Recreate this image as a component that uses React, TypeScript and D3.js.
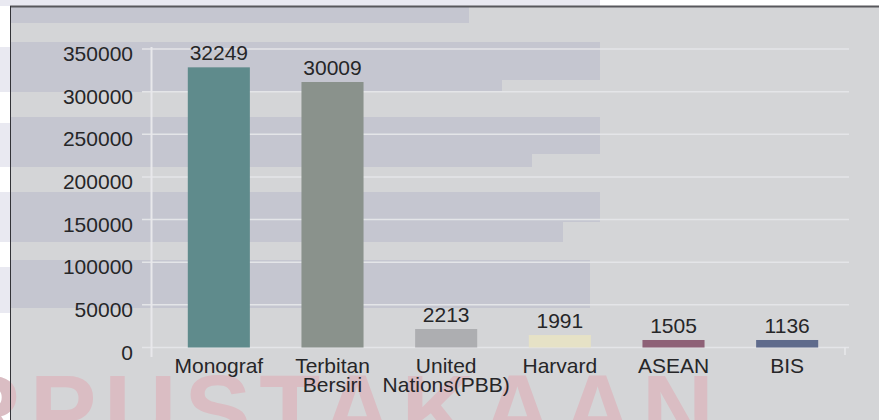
import * as d3 from "d3";
import { useEffect, useRef } from "react";

// chart data
const categories = ["Monograf", "Terbitan\nBersiri", "United\nNations(PBB)", "Harvard", "ASEAN", "BIS"];
const barValues = [328500, 311300, 21700, 14600, 8800, 8800];
const barLabels = ["32249", "30009", "2213", "1991", "1505", "1136"];
const barColors = ["#5f8b8c", "#8a928c", "#adaeb1", "#e6e2c6", "#8e6177", "#5f6b8c"];
const yTicks = [0, 50000, 100000, 150000, 200000, 250000, 300000, 350000];

const W = 879;
const H = 420;

export default function App() {
  const ref = useRef<SVGSVGElement>(null);

  useEffect(() => {
    const svg = d3.select(ref.current);
    svg.selectAll("*").remove();

    const font = "'Liberation Sans', Arial, Helvetica, sans-serif";

    // page / frame background
    svg.append("rect").attr("width", W).attr("height", H).attr("fill", "#ffffff");
    svg.append("rect").attr("x", 0).attr("y", 0).attr("width", 600).attr("height", 6).attr("fill", "#e9e9f1");
    [[47, 92], [123, 167], [192, 242], [267, 313]].forEach(([a, b]) => {
      svg.append("rect").attr("x", 0).attr("y", a).attr("width", 10).attr("height", b - a).attr("fill", "#e9e9f1");
    });
    svg.append("rect").attr("x", 10).attr("y", 6).attr("width", W - 10).attr("height", H - 6).attr("fill", "#d4d5d7");

    // faint watermark bands
    const bands: [number, number, number][] = [
      [7, 23, 469], [42, 80, 600], [80, 92, 502], [117, 154, 600], [154, 167, 532],
      [192, 222, 600], [222, 242, 563], [260, 308, 590],
    ];
    bands.forEach(([a, b, r]) => {
      svg.append("rect").attr("x", 11).attr("y", a).attr("width", r - 11).attr("height", b - a).attr("fill", "#c5c6d0");
    });

    // watermark text
    svg.append("text")
      .attr("x", 722).attr("y", 445)
      .attr("text-anchor", "end")
      .attr("font-family", font).attr("font-weight", "bold")
      .attr("font-size", 100).attr("letter-spacing", 8)
      .attr("fill", "#dabdc3")
      .text("PERPUSTAKAAN");

    // frame border
    svg.append("line").attr("x1", 10).attr("x2", W).attr("y1", 6.5).attr("y2", 6.5).attr("stroke", "#58585c").attr("stroke-width", 2);
    svg.append("line").attr("x1", 10.5).attr("x2", 10.5).attr("y1", 6).attr("y2", H).attr("stroke", "#333338").attr("stroke-width", 1);

    const x = d3.scaleBand<string>()
      .domain(categories)
      .range([162, 844])
      .paddingInner(0.454)
      .paddingOuter(0.227);

    const y = d3.scaleLinear().domain([0, 350000]).range([347.5, 49]);

    // gridlines
    svg.append("g")
      .selectAll("line")
      .data(yTicks)
      .enter()
      .append("line")
      .attr("x1", 142).attr("x2", 849)
      .attr("y1", (d) => y(d)).attr("y2", (d) => y(d))
      .attr("stroke", "#e4e5e8").attr("stroke-width", 1.5);

    // axis lines
    svg.append("line").attr("x1", 151.5).attr("x2", 151.5).attr("y1", 47).attr("y2", 357).attr("stroke", "#e8e8eb").attr("stroke-width", 2);
    svg.append("line").attr("x1", 845).attr("x2", 845).attr("y1", y(0)).attr("y2", 355).attr("stroke", "#e8e8eb").attr("stroke-width", 1.5);

    // y labels
    svg.append("g")
      .selectAll("text")
      .data(yTicks)
      .enter()
      .append("text")
      .attr("x", 133)
      .attr("y", (d) => y(d) + 12)
      .attr("text-anchor", "end")
      .attr("font-family", font).attr("font-size", 21)
      .attr("fill", "#262628")
      .text((d) => String(d));

    // bars
    svg.append("g")
      .selectAll("rect")
      .data(categories)
      .enter()
      .append("rect")
      .attr("x", (d) => x(d)!)
      .attr("y", (d, i) => y(barValues[i]))
      .attr("width", x.bandwidth())
      .attr("height", (d, i) => y(0) - y(barValues[i]))
      .attr("fill", (d, i) => barColors[i]);

    // value labels
    svg.append("g")
      .selectAll("text")
      .data(categories)
      .enter()
      .append("text")
      .attr("x", (d) => x(d)! + x.bandwidth() / 2)
      .attr("y", (d, i) => y(barValues[i]) - 7)
      .attr("text-anchor", "middle")
      .attr("font-family", font).attr("font-size", 21)
      .attr("fill", "#262628")
      .text((d, i) => barLabels[i]);

    // category labels
    const cat = svg.append("g")
      .selectAll("text")
      .data(categories)
      .enter()
      .append("text")
      .attr("text-anchor", "middle")
      .attr("font-family", font).attr("font-size", 21)
      .attr("fill", "#262628");
    cat.each(function (d) {
      const t = d3.select(this);
      const cx = x(d)! + x.bandwidth() / 2;
      d.split("\n").forEach((line, j) => {
        t.append("tspan").attr("x", cx).attr("y", 372.5 + j * 19).text(line);
      });
    });
  }, []);

  return (
    <svg
      ref={ref}
      width={W}
      height={H}
      style={{ position: "absolute", left: 0, top: 0, display: "block" }}
    />
  );
}
